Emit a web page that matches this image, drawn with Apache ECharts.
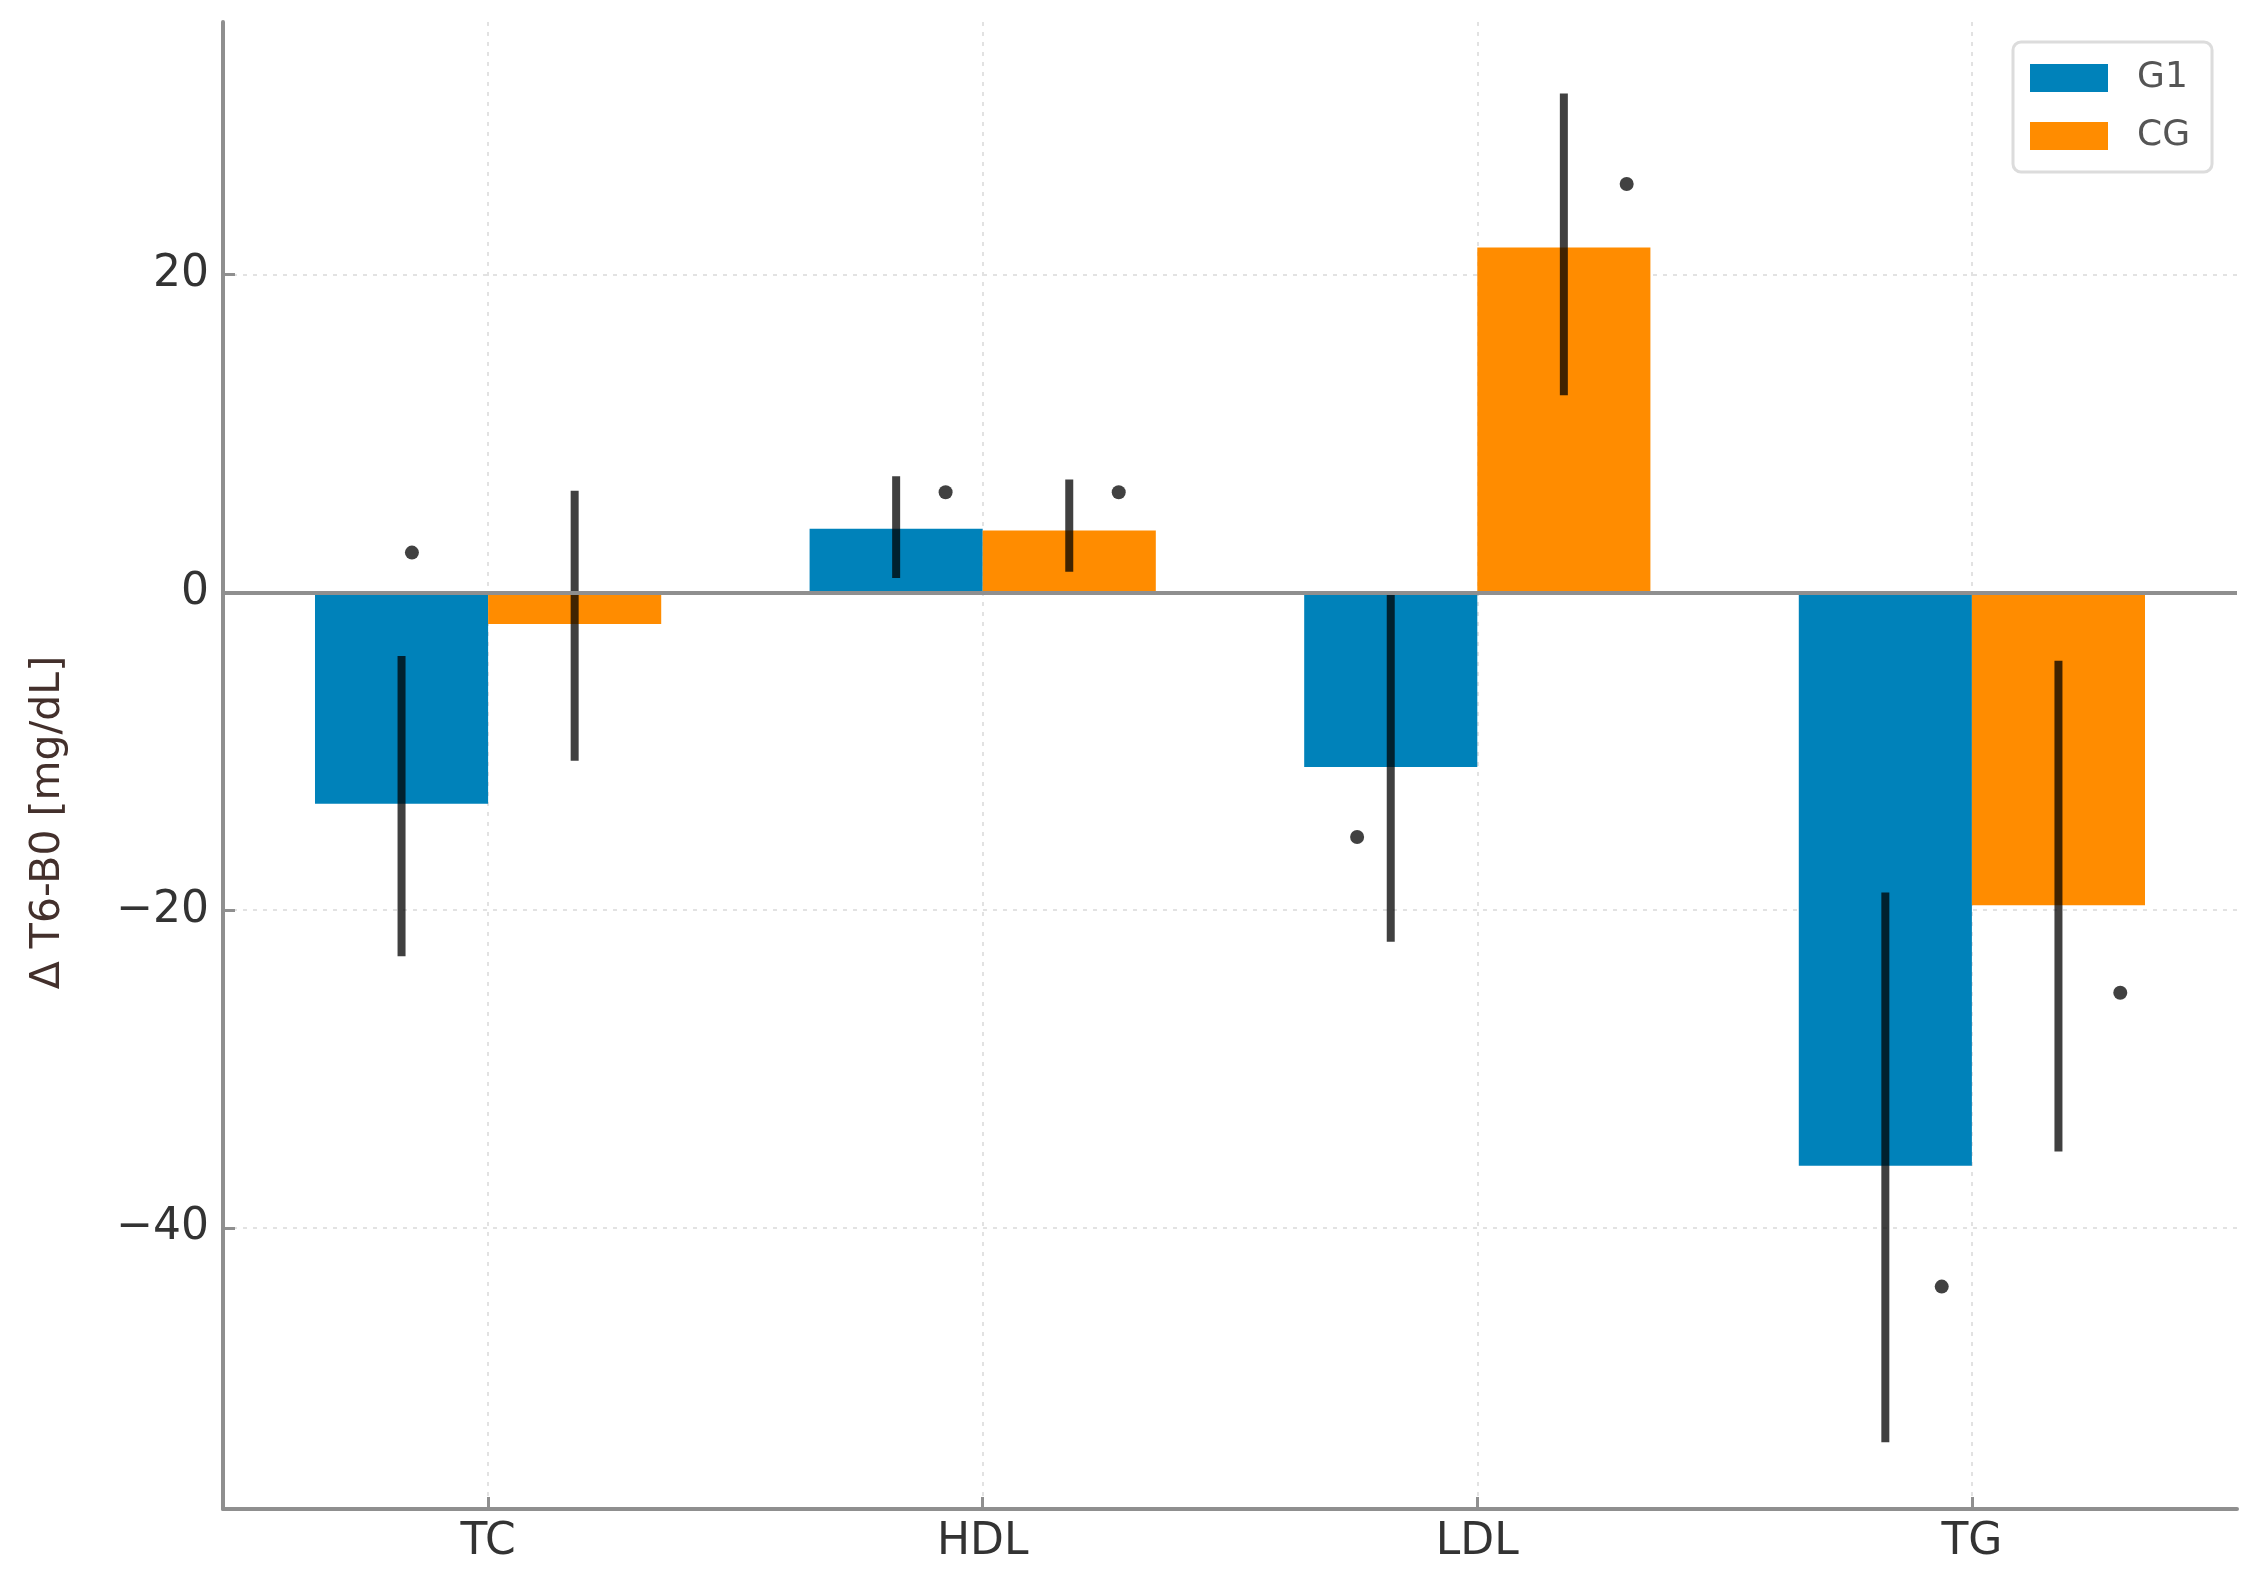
<!DOCTYPE html>
<html>
<head>
<meta charset="utf-8">
<title>Δ T6-B0</title>
<script src="https://cdn.jsdelivr.net/npm/echarts@6/dist/echarts.min.js"></script>
<style>
  html, body { margin: 0; padding: 0; background: #fff; }
  #chart { width: 2257px; height: 1584px; }
</style>
</head>
<body>
<div id="chart"></div>
<script>
// categories and values
var categories = ['TC', 'HDL', 'LDL', 'TG'];
var g1Values = [-13.3, 4.0, -11.0, -36.1];
var cgValues = [-2.0, 3.9, 21.7, -19.7];
var g1ErrLow = [-22.9, 0.9, -22.0, -53.5];
var g1ErrHigh = [-4.0, 7.3, 0.0, -18.9];
var cgErrLow = [-10.6, 1.3, 12.4, -35.2];
var cgErrHigh = [6.4, 7.1, 31.4, -4.3];
// significance markers (x in category units)
var markX = [-0.154, 0.925, 1.275, 1.757, 2.302, 2.939, 3.30];
var markY = [2.5, 6.3, 6.3, -15.4, 25.7, -43.7, -25.2];
var yTicks = [-40, -20, 0, 20];

var barOffset = 0.175;
var xMin = -0.536, xMax = 3.536;
var yMin = -57.7, yMax = 35.9;

var gridLeft = 223, gridTop = 22, gridWidth = 2014, gridHeight = 1487;
var barPx = 2 * barOffset * gridWidth / (xMax - xMin);

function barData(vals, off) {
    return vals.map(function (v, i) { return [i + off, v]; });
}
function errData(lo, hi, off) {
    return lo.map(function (v, i) { return [i + off, v, hi[i]]; });
}
function renderErr(params, api) {
    var p1 = api.coord([api.value(0), api.value(1)]);
    var p2 = api.coord([api.value(0), api.value(2)]);
    return {
        type: 'line',
        shape: { x1: p1[0], y1: p1[1], x2: p2[0], y2: p2[1] },
        style: { stroke: 'rgba(0,0,0,0.75)', lineWidth: 8 }
    };
}

var myChart = echarts.init(document.getElementById('chart'));
var option = {
    backgroundColor: '#fff',
    animation: false,
    textStyle: { fontFamily: 'DejaVu Sans' },
    grid: { left: gridLeft, top: gridTop, width: gridWidth, height: gridHeight },
    legend: {
        data: ['G1', 'CG'],
        orient: 'vertical',
        left: 2013,
        top: 42,
        padding: [18, 22, 18, 17],
        itemWidth: 78,
        itemHeight: 28,
        itemGap: 22,
        icon: 'rect',
        borderColor: '#dcdcdc',
        borderWidth: 3,
        borderRadius: 8,
        backgroundColor: '#fff',
        textStyle: { fontSize: 36, color: '#555', padding: [0, 0, 0, 24] }
    },
    xAxis: {
        type: 'value',
        min: xMin,
        max: xMax,
        axisLine: { onZero: false, lineStyle: { color: '#8f8f8f', width: 4 } },
        axisTick: { show: true, inside: true, length: 12, customValues: [0, 1, 2, 3],
                    lineStyle: { color: '#8f8f8f', width: 3 } },
        axisLabel: {
            customValues: [0, 1, 2, 3],
            formatter: function (v) { return categories[Math.round(v)]; },
            fontSize: 44, color: '#333', margin: 12
        },
        splitLine: { show: true, lineStyle: { color: '#e2e2e2', width: 2, type: [4, 6] } }
    },
    yAxis: {
        type: 'value',
        min: yMin,
        max: yMax,
        name: 'Δ T6-B0 [mg/dL]',
        nameLocation: 'middle',
        nameGap: 154,
        nameTextStyle: { fontSize: 41, color: '#43302c', padding: [0, 114, 0, 0] },
        axisLine: { onZero: false, lineStyle: { color: '#8f8f8f', width: 4 } },
        axisTick: { show: true, inside: true, length: 12, customValues: yTicks,
                    lineStyle: { color: '#8f8f8f', width: 3 } },
        axisLabel: {
            customValues: yTicks,
            formatter: function (v) { return String(v).replace('-', '\u2212'); },
            fontSize: 44, color: '#333', margin: 14
        },
        splitLine: { show: true, lineStyle: { color: '#e2e2e2', width: 2, type: [4, 6] } }
    },
    series: [
        {
            name: 'G1',
            type: 'bar',
            data: barData(g1Values, -barOffset),
            barWidth: barPx,
            barGap: '-100%',
            itemStyle: { color: '#0082ba' },
            z: 2
        },
        {
            name: 'CG',
            type: 'bar',
            data: barData(cgValues, barOffset),
            barWidth: barPx,
            barGap: '-100%',
            itemStyle: { color: '#ff8c00' },
            z: 2,
            markLine: {
                silent: true,
                symbol: 'none',
                label: { show: false },
                lineStyle: { color: '#8f8f8f', width: 4, type: 'solid' },
                data: [{ yAxis: 0 }]
            }
        },
        {
            name: 'G1 err',
            type: 'custom',
            renderItem: renderErr,
            data: errData(g1ErrLow, g1ErrHigh, -barOffset),
            z: 4
        },
        {
            name: 'CG err',
            type: 'custom',
            renderItem: renderErr,
            data: errData(cgErrLow, cgErrHigh, barOffset),
            z: 4
        },
        {
            name: 'sig',
            type: 'scatter',
            symbol: 'circle',
            symbolSize: 14,
            data: markX.map(function (x, i) { return [x, markY[i]]; }),
            itemStyle: { color: '#111' },
            z: 5
        }
    ]
};
myChart.setOption(option);
window.addEventListener('resize', function () { myChart.resize(); }, false);
</script>
</body>
</html>
